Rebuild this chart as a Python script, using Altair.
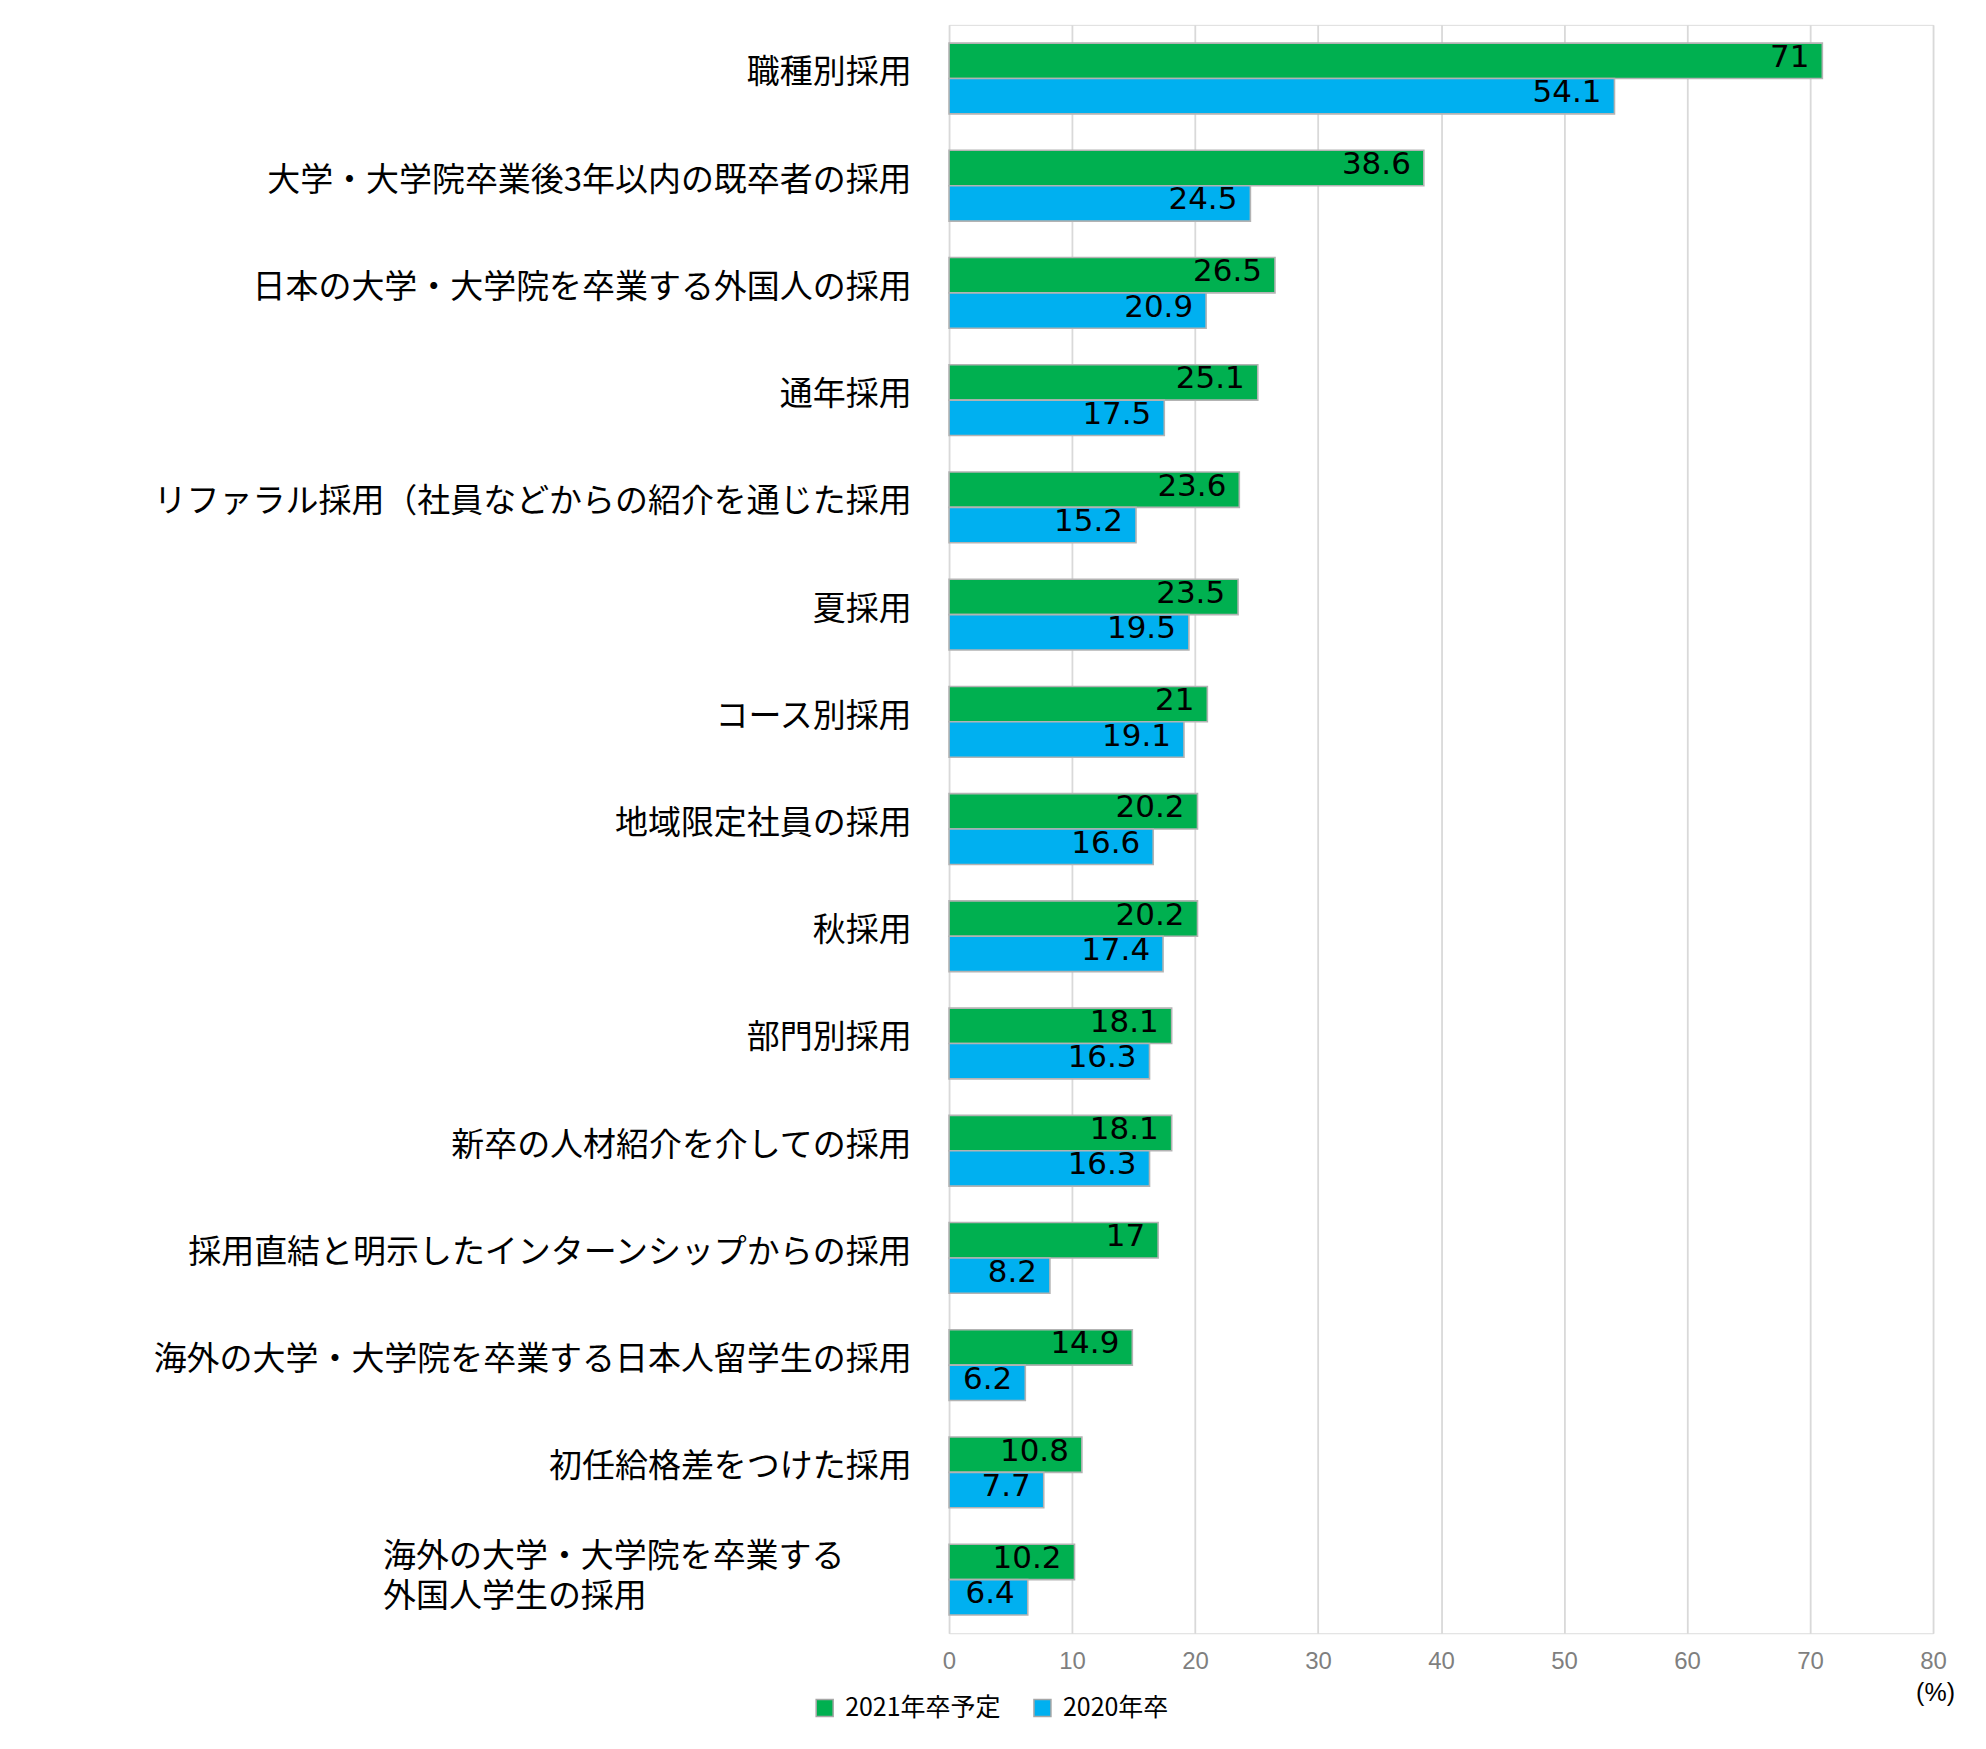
import altair as alt
import pandas as pd

categories = [
    "職種別採用",
    "大学・大学院卒業後3年以内の既卒者の採用",
    "日本の大学・大学院を卒業する外国人の採用",
    "通年採用",
    "リファラル採用（社員などからの紹介を通じた採用",
    "夏採用",
    "コース別採用",
    "地域限定社員の採用",
    "秋採用",
    "部門別採用",
    "新卒の人材紹介を介しての採用",
    "採用直結と明示したインターンシップからの採用",
    "海外の大学・大学院を卒業する日本人留学生の採用",
    "初任給格差をつけた採用",
    "海外の大学・大学院を卒業する\n外国人学生の採用",
]
v2021 = [71, 38.6, 26.5, 25.1, 23.6, 23.5, 21, 20.2, 20.2, 18.1, 18.1, 17, 14.9, 10.8, 10.2]
v2020 = [54.1, 24.5, 20.9, 17.5, 15.2, 19.5, 19.1, 16.6, 17.4, 16.3, 16.3, 8.2, 6.2, 7.7, 6.4]
series = ["2021年卒予定", "2020年卒"]
colors = ["#00B050", "#00B0F0"]
x_ticks = [0, 10, 20, 30, 40, 50, 60, 70, 80]

rows = []
for c, a, b in zip(categories, v2021, v2020):
    rows.append({"category": c, "series": series[0], "value": a, "label": str(a)})
    rows.append({"category": c, "series": series[1], "value": b, "label": str(b)})
df = pd.DataFrame(rows)

JP = "Noto Sans CJK JP"
multi_test = "indexof(datum.label, '外国人学生') >= 0"

y_enc = alt.Y(
    "category:N",
    sort=categories,
    scale=alt.Scale(paddingInner=0.34, paddingOuter=0.17),
    axis=alt.Axis(
        title=None,
        domain=False,
        ticks=False,
        tickSize=0,
        grid=False,
        labelFont=JP,
        labelFontSize=33,
        labelColor="#000000",
        labelLimit=2000,
        labelOverlap=False,
        labelBound=False,
        labelLineHeight=40,
        labelExpr="split(datum.label, '\\n')",
        labelAlign={"condition": {"test": multi_test, "value": "left"}, "value": "right"},
        labelPadding={"condition": {"test": multi_test, "value": 567}, "value": 38},
        labelOffset={"condition": {"test": multi_test, "value": -23}, "value": -5},
    ),
)
yoff = alt.YOffset("series:N", sort=series, scale=alt.Scale(paddingInner=0, paddingOuter=0))
x_enc = alt.X(
    "value:Q",
    scale=alt.Scale(domain=[0, 80], nice=False),
    axis=alt.Axis(
        values=x_ticks,
        title="(%)",
        titleX=987,
        titleY=59,
        titleAlign="center",
        titleBaseline="middle",
        titleFont="Liberation Sans",
        titleFontSize=25,
        titleFontWeight="normal",
        titleColor="#000000",
        titleAngle=0,
        domain=False,
        ticks=False,
        grid=True,
        gridColor="#d9d9d9",
        gridWidth=1.8,
        labelFont="Liberation Sans",
        labelFontSize=24,
        labelColor="#7f7f7f",
        labelPadding=16,
        labelFlush=False,
    ),
)

bars = alt.Chart(df).mark_bar(stroke="#b3b3b3", strokeWidth=1.6).encode(
    x=x_enc,
    y=y_enc,
    yOffset=yoff,
    color=alt.Color(
        "series:N",
        sort=series,
        scale=alt.Scale(domain=series, range=colors),
        legend=alt.Legend(
            title=None,
            orient="none",
            direction="horizontal",
            legendX=-137,
            legendY=1672,
            symbolType="square",
            symbolSize=289,
            symbolStrokeColor="#a6a6a6",
            symbolStrokeWidth=1.5,
            labelFont=JP,
            labelFontSize=25,
            labelColor="#000000",
            labelOffset=8,
            columnPadding=29,
            padding=0,
        ),
    ),
)

texts = alt.Chart(df).mark_text(
    align="right", baseline="middle", dx=-13, dy=-3, font="DejaVu Sans", fontSize=31, color="#000000"
).encode(
    x=alt.X("value:Q"),
    y=alt.Y("category:N", sort=categories),
    yOffset=alt.YOffset("series:N", sort=series),
    text="label:N",
)

chart = (
    alt.layer(bars, texts)
    .properties(
        width=985,
        height=1610,
        autosize=alt.AutoSizeParams(type="none"),
        padding={"left": 942, "top": 16, "right": 45, "bottom": 100},
    )
    .configure_view(stroke=None)
    .configure(background="white")
)

chart.save("out.html", embed_options={"renderer": "svg", "actions": False})
